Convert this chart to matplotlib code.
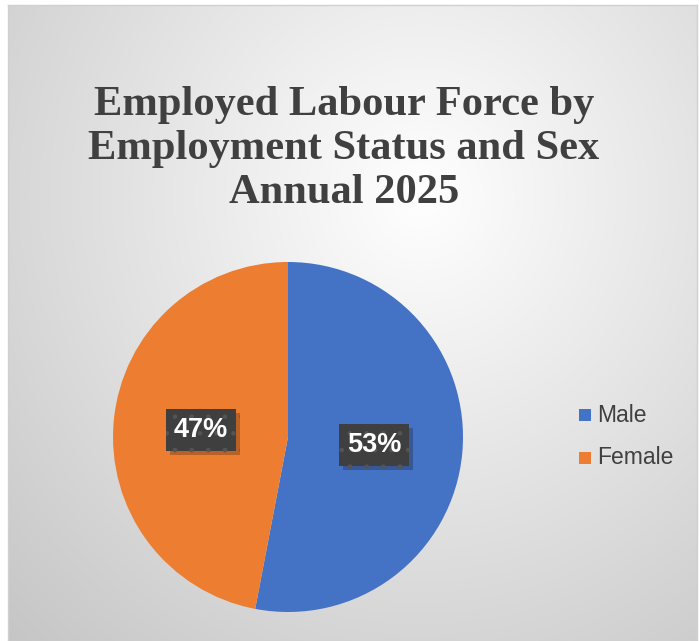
import numpy as np
import matplotlib
matplotlib.use("Agg")
import matplotlib.pyplot as plt
import matplotlib.patheffects as pe

labels = ["Male", "Female"]
shares = [53, 47]
colors = ["#4472C4", "#ED7D31"]
title = "Employed Labour Force by\nEmployment Status and Sex\nAnnual 2025"

W, H = 699, 641
plt.rcParams['hatch.linewidth'] = 0.9

fig = plt.figure(figsize=(W / 100, H / 100), dpi=100)
fig.patch.set_facecolor("white")

# chart area with radial grey gradient
bx0, by0, bx1, by1 = 8, 5, 697, 641
bg = fig.add_axes([bx0 / W, 1 - by1 / H, (bx1 - bx0) / W, (by1 - by0) / H])
gx, gy = np.meshgrid(np.linspace(0, 1, 300), np.linspace(0, 1, 300))
r = np.sqrt(((gx - 0.6) / 0.8) ** 2 + ((gy - 0.3) / 0.9) ** 2)
shade = 1.0 - 0.23 * np.clip(r, 0, 1.1) / 1.1
bg.imshow(np.dstack([shade, shade, shade]), extent=[0, 1, 0, 1], aspect="auto", origin="upper")
bg.set_xticks([])
bg.set_yticks([])
for s in bg.spines.values():
    s.set_color("#d0d0d0")
    s.set_linewidth(1)

fig.text(0.492, 1 - 149 / H, title, ha="center", va="center", family="Liberation Serif",
         fontweight="bold", fontsize=30.6, color="#404040", linespacing=1.2)

# pie
cx, cy, rad = 288, 437, 175
ax = fig.add_axes([(cx - rad) / W, 1 - (cy + rad) / H, 2 * rad / W, 2 * rad / H])
ax.pie(shares, colors=colors, startangle=90, counterclock=False, radius=1)
ax.set_xlim(-1, 1)
ax.set_ylim(-1, 1)
ax.set_aspect("equal")
ax.axis("off")

label_pos = [(374, 445), (201, 430)]
for (px, py), v in zip(label_pos, shares):
    t = fig.text(px / W, 1 - py / H, f"{v}%", ha="center", va="center",
                 family="Liberation Sans", fontweight="bold", fontsize=19.5, color="white",
                 bbox=dict(boxstyle="square,pad=0.3", facecolor="#3f3f3f",
                           edgecolor="#545454", linewidth=0, hatch="."))
    t.get_bbox_patch().set_path_effects([
        pe.SimplePatchShadow(offset=(3, -3), shadow_rgbFace="black", alpha=0.22),
        pe.Normal()])

# legend
for i, (lab, c) in enumerate(zip(labels, colors)):
    ly = 415 + 43 * i
    fig.patches.append(plt.Rectangle((579 / W, 1 - (ly + 6) / H), 12 / W, 12 / H,
                                     transform=fig.transFigure, facecolor=c, edgecolor="none"))
    fig.text(597 / W, 1 - ly / H, lab, ha="left", va="center", family="Liberation Sans",
             fontsize=16.5, color="#404040")

fig.savefig("out.png", dpi=100, facecolor="white")
